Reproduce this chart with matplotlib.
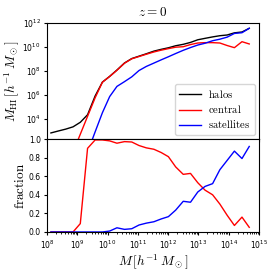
import numpy as np
import matplotlib
matplotlib.use('Agg')
from matplotlib import pyplot as plt

# log10 halo mass bins [h^-1 Msun]
logM = [8.13, 8.37, 8.62, 8.86, 9.10, 9.34, 9.59, 9.83, 10.07, 10.31,
        10.56, 10.80, 11.04, 11.28, 11.53, 11.77, 12.01, 12.25, 12.50, 12.74,
        12.98, 13.22, 13.47, 13.71, 13.95, 14.19, 14.44, 14.68]

# log10 M_HI per component (nan = no HI)
logHI_halos = [2.81, 2.97, 3.13, 3.32, 3.70, 4.33, 5.90, 7.06, 7.54, 8.07,
               8.66, 9.03, 9.23, 9.43, 9.65, 9.80, 9.93, 10.10, 10.22, 10.38,
               10.60, 10.72, 10.84, 10.94, 11.00, 11.18, 11.25, 11.56]
logHI_central = [np.nan, np.nan, np.nan, 1.20, 2.70, 4.20, 5.75, 7.05, 7.53, 8.05,
                 8.64, 9.01, 9.20, 9.39, 9.58, 9.73, 9.86, 9.98, 10.02, 10.20,
                 10.33, 10.36, 10.36, 10.33, 10.12, 9.94, 10.44, 10.25]
logHI_sat = [np.nan, np.nan, np.nan, np.nan, np.nan, 1.20, 2.90, 4.50, 5.85, 6.70,
             7.10, 7.50, 8.03, 8.37, 8.65, 8.92, 9.18, 9.45, 9.72, 9.95,
             10.16, 10.31, 10.52, 10.65, 10.82, 11.13, 11.19, 11.56]

# fraction of HI in centrals / satellites
frac_central = [0, 0, 0, 0, 0.09, 0.90, 0.99, 0.99, 0.98, 0.955,
                0.972, 0.968, 0.93, 0.905, 0.89, 0.855, 0.81, 0.70, 0.62, 0.63,
                0.53, 0.45, 0.40, 0.30, 0.18, 0.07, 0.16, 0.05]
frac_sat = [0, 0, 0, 0, 0, 0, 0, 0, 0.01, 0.045,
            0.028, 0.035, 0.075, 0.095, 0.11, 0.14, 0.165, 0.235, 0.33, 0.32,
            0.43, 0.49, 0.52, 0.67, 0.77, 0.87, 0.79, 0.92]

M = 10**np.array(logM)

fig = plt.figure(figsize=(2.74, 2.71), dpi=100)
ax1 = fig.add_axes([0.1715, 0.487, 0.7735, 0.428])
ax2 = fig.add_axes([0.1715, 0.144, 0.7735, 0.343], sharex=ax1)

ax1.plot(M, 10**np.array(logHI_halos), c='k', lw=1, label=r'$\mathrm{halos}$')
ax1.plot(M, 10**np.array(logHI_central), c='r', lw=1, label=r'$\mathrm{central}$')
ax1.plot(M, 10**np.array(logHI_sat), c='b', lw=1, label=r'$\mathrm{satellites}$')
ax1.set_xscale('log')
ax1.set_yscale('log')
ax1.set_xlim(1e8, 1e15)
ax1.set_ylim(2e2, 1e12)
ax1.set_yticks([1e4, 1e6, 1e8, 1e10, 1e12])
ax1.tick_params(labelsize=5.5, labelbottom=False, pad=2, length=2.5)
ax1.tick_params(which='minor', length=1.5)
ax1.set_ylabel(r'$M_{\rm HI}\,[h^{-1}\,M_\odot]$', fontsize=9.5, math_fontfamily='cm', labelpad=1)
ax1.set_title(r'$z=0$', fontsize=9.5, math_fontfamily='cm', pad=5)
leg = ax1.legend(loc='lower right', fontsize=7.7, handlelength=2.0, labelspacing=0.3,
                 borderaxespad=0.4, handletextpad=0.7)
for t in leg.get_texts():
    t.set_math_fontfamily('cm')

ax2.plot(M, frac_central, c='r', lw=1)
ax2.plot(M, frac_sat, c='b', lw=1)
ax2.set_ylim(0, 1)
ax2.set_yticks([0, 0.2, 0.4, 0.6, 0.8, 1.0])
ax2.tick_params(labelsize=5.5, pad=2, length=2.5)
ax2.tick_params(which='minor', length=1.5)
ax2.set_ylabel(r'$\mathrm{fraction}$', fontsize=9.5, math_fontfamily='cm', labelpad=1)
ax2.set_xlabel(r'$M\,[h^{-1}\,M_\odot]$', fontsize=9.5, math_fontfamily='cm', labelpad=1)

fig.savefig('out.png', dpi=100)
